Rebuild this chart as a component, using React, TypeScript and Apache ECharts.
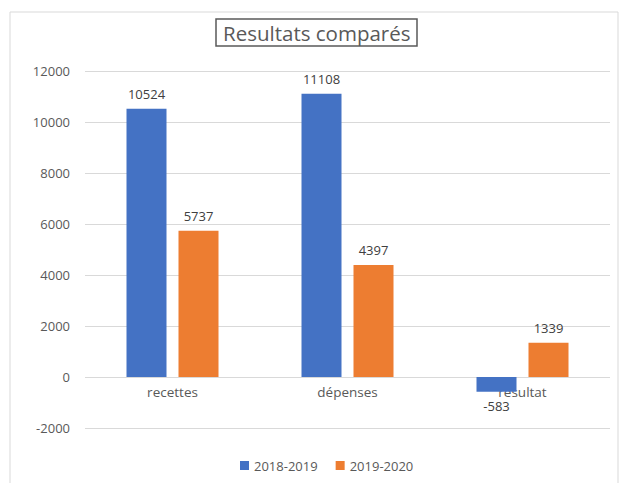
import React, { useEffect, useRef } from "react";
import * as echarts from "echarts";

const categories = ["recettes", "dépenses", "resultat"];
const series2018 = [10524, 11108, -583];
const series2019 = [5737, 4397, 1339];
const seriesNames = ["2018-2019", "2019-2020"];
const titleText = "Resultats comparés";

const FONT = "'Open Sans', 'Noto Sans', sans-serif";

export default function App() {
  const ref = useRef<HTMLDivElement>(null);
  useEffect(() => {
    document.body.style.margin = "0";
    const chart = echarts.init(ref.current!, null, { renderer: "svg" });
    const mk = (vals: number[]) =>
      vals.map((v) => ({
        value: v,
        label: { position: v < 0 ? "bottom" : "top" },
      }));
    chart.setOption({
      animation: false,
      backgroundColor: "#ffffff",
      textStyle: { fontFamily: FONT },
      title: {
        text: titleText,
        left: 216,
        top: 19,
        padding: [3, 7, 3, 7],
        borderColor: "#595959",
        borderWidth: 1.5,
        textStyle: { fontFamily: FONT, fontSize: 20.5, fontWeight: "normal", color: "#595959" },
      },
      legend: {
        bottom: 6,
        left: 235,
        itemWidth: 9,
        itemHeight: 9,
        icon: "rect",
        itemGap: 18,
        textStyle: { fontFamily: FONT, fontSize: 13, color: "#595959" },
        data: seriesNames,
      },
      grid: { left: 85, right: 12, top: 71, bottom: 55, containLabel: false },
      xAxis: {
        type: "category",
        data: categories,
        axisLine: { onZero: false, show: false },
        axisTick: { show: false },
        axisLabel: { fontFamily: FONT, fontSize: 13.5, color: "#595959", margin: -43 },
      },
      yAxis: {
        type: "value",
        min: -2000,
        max: 12000,
        interval: 2000,
        axisLine: { show: false },
        axisTick: { show: false },
        splitLine: { lineStyle: { color: "#d9d9d9" } },
        axisLabel: {
          fontFamily: FONT,
          fontSize: 13,
          color: "#595959",
          margin: 15,
          formatter: (v: number) => String(v),
        },
      },
      graphic: [
        {
          type: "rect",
          shape: { x: 10, y: 12, width: 608, height: 480 },
          style: { fill: "none", stroke: "#d9d9d9", lineWidth: 1 },
          silent: true,
        },
      ],
      series: [
        {
          name: seriesNames[0],
          type: "bar",
          data: mk(series2018),
          barWidth: 40,
          barGap: "30%",
          itemStyle: { color: "#4472C4" },
          label: { show: true, fontFamily: FONT, fontSize: 13, color: "#404040", distance: 8 },
        },
        {
          name: seriesNames[1],
          type: "bar",
          data: mk(series2019),
          barWidth: 40,
          barGap: "30%",
          itemStyle: { color: "#ED7D31" },
          label: { show: true, fontFamily: FONT, fontSize: 13, color: "#404040", distance: 8 },
        },
      ],
    });
    return () => chart.dispose();
  }, []);
  return <div ref={ref} style={{ width: 622, height: 483 }} />;
}
